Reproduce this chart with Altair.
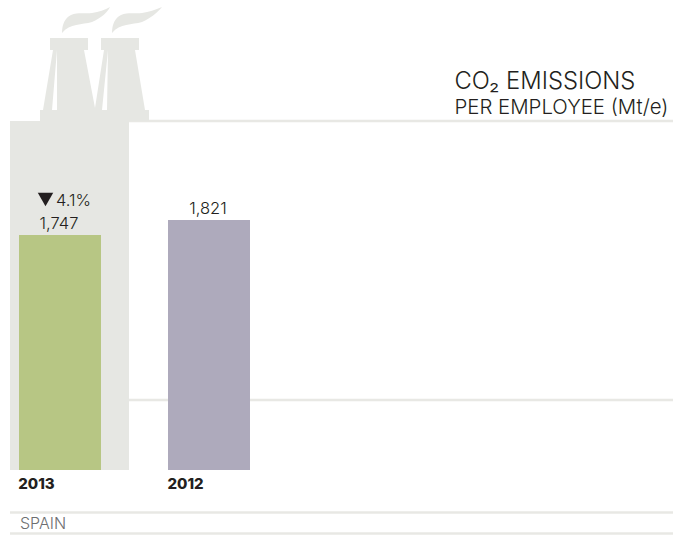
import altair as alt
import pandas as pd

# Chart values
years = ["2013", "2012"]
emissions = [1747, 1821]
bar_colors = ["#b7c684", "#aeaabc"]
value_labels = ["1,747", "1,821"]
change_label = "4.1%"
title_main = "CO₂ EMISSIONS"
title_sub = "PER EMPLOYEE (Mt/e)"
country = "SPAIN"

# Styling
FONT = "Inter"
PANEL = "#e6e7e3"
RULE = "#e8e8e4"
INK = "#231f20"
W, H = 673, 536
BASELINE_PX = 470
AXIS_FLOOR = 588
AXIS_TOP = 2906

# Factory silhouette rising out of the panel behind the latest year
FACTORY = (
    "M10 121 L40 121 L40 110 L43 110 L53 50 L50 50 L50 38 L88 38 L88 50 L84 50 "
    "L95 108 L104 50 L101 50 L101 38 L139 38 L139 50 L135 50 L145 110 L149 110 L149 121 "
    "L129 121 L129 470 L10 470 Z "
    "M57 50 L52 110 L57 110 Z "
    "M108 50 L102 110 L107 110 Z "
    "M62 33 C62 24 65 18 71 15 C78 12 86 14 92 13 C99 12 105 10 110 7 "
    "C107 13 101 18 92 22 C82 25 70 23 62 33 Z "
    "M112 33 C112 24 115 18 121 15 C128 12 136 14 142 13 C149 12 155 10 162 7 "
    "C157 13 151 18 142 22 C132 25 120 23 112 33 Z"
)

df = pd.DataFrame({"year": years, "value": emissions, "label": value_labels, "color": bar_colors})
one = pd.DataFrame({"n": [0]})

x_scale = alt.Scale(type="point", domain=years, range=[60, 209], padding=0)
y_scale = alt.Scale(domain=[AXIS_FLOOR, AXIS_TOP], range=[BASELINE_PX, 0], zero=False, nice=False)
x_enc = alt.X("year:N", scale=x_scale, axis=None)
y_enc = alt.Y("value:Q", scale=y_scale, axis=None)


def hrule(x0, x1, y, width=2.6):
    return alt.Chart(one).mark_rule(color=RULE, strokeWidth=width).encode(
        x=alt.value(x0), x2=alt.value(x1), y=alt.value(y)
    )


def label(text, x, y, size, color=INK, weight=300, align="left"):
    return alt.Chart(pd.DataFrame({"t": [text]})).mark_text(
        font=FONT, fontSize=size, fontWeight=weight, color=color, align=align, baseline="alphabetic"
    ).encode(x=alt.value(x), y=alt.value(y), text="t:N")


factory = alt.Chart(one).mark_point(
    shape=FACTORY, size=4, filled=True, fill=PANEL, stroke=None, opacity=1
).encode(x=alt.value(0), y=alt.value(0))

bars = alt.Chart(df).mark_bar(size=82).encode(
    x=x_enc, y=y_enc, y2=alt.datum(AXIS_FLOOR),
    color=alt.Color("color:N", scale=None),
)

values = alt.Chart(df).mark_text(
    font=FONT, fontSize=16.5, fontWeight=300, color=INK, baseline="alphabetic", dy=-6, dx=-1
).encode(x=x_enc, y=y_enc, text="label:N")

year_labels = alt.Chart(df).mark_text(
    font=FONT, fontSize=15, fontWeight=800, color=INK, align="center", baseline="alphabetic", dx=-23.5
).encode(x=x_enc, y=alt.value(489), text="year:N")

down_arrow = alt.Chart(one).mark_point(
    shape="triangle-down", size=240, filled=True, fill=INK, stroke=None, opacity=1
).encode(x=alt.value(45.5), y=alt.value(199.5))

chart = alt.layer(
    hrule(129, W, 121),
    hrule(129, W, 400),
    factory,
    bars,
    values,
    year_labels,
    down_arrow,
    label(change_label, 56, 206, 16.5),
    label(title_main, 454.5, 89, 23.8),
    label(title_sub, 454.5, 114, 20.4),
    hrule(10, W, 512.5),
    hrule(10, W, 533.5),
    label(country, 20, 529, 16, color="#6d6e70"),
).properties(
    width=W, height=H, padding=0, autosize=alt.AutoSizeParams(type="none"), background="white"
).configure_view(stroke=None)

chart.save("out.html", embed_options={"renderer": "svg", "actions": False})
